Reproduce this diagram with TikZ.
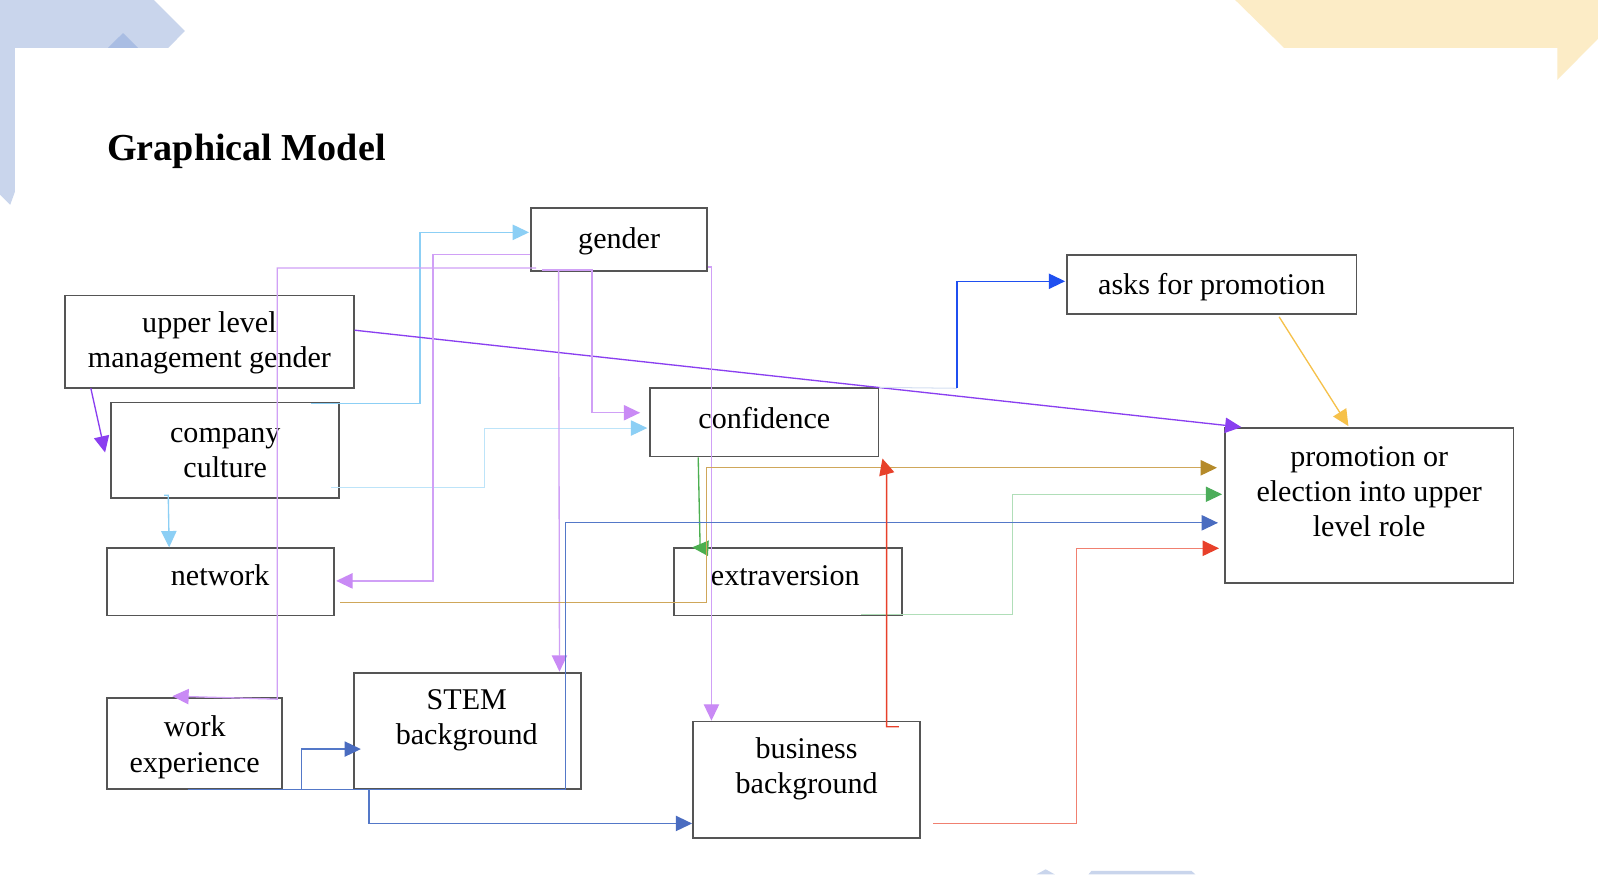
\documentclass[tikz,border=0pt]{standalone}
\usepackage{fontspec}
\setmainfont{Liberation Serif}
\usetikzlibrary{arrows.meta,calc}
\definecolor{boxgray}{HTML}{555555}
\definecolor{decoblue}{HTML}{C9D5EC}
\definecolor{decoblued}{HTML}{A9BDE3}
\definecolor{decoyel}{HTML}{FCECC6}
\definecolor{skyc}{HTML}{8CCFF5}
\definecolor{skyl}{HTML}{BDE4F9}
\definecolor{purd}{HTML}{8A3FF0}
\definecolor{purl}{HTML}{D0A0F6}
\definecolor{purla}{HTML}{C98AF5}
\definecolor{blueb}{HTML}{1F4FF0}
\definecolor{faintc}{HTML}{D5E0F2}
\definecolor{yelc}{HTML}{F6C14A}
\definecolor{grec}{HTML}{4CAF50}
\definecolor{gre2}{HTML}{8ED09A}
\definecolor{gre2a}{HTML}{4CAD5A}
\definecolor{goldl}{HTML}{CFA75A}
\definecolor{golda}{HTML}{B58A2A}
\definecolor{steel}{HTML}{5478C8}
\definecolor{steela}{HTML}{4A6CC0}
\definecolor{redc}{HTML}{E8402A}
\definecolor{red2}{HTML}{F08070}
\newcommand\boxfont{\fontsize{29.5}{34.5}\selectfont}
\begin{document}
\begin{tikzpicture}[x=1pt,y=-1pt,
  box/.style={draw=boxgray,line width=1.8pt,inner sep=0pt},
  txt/.style={font=\boxfont,align=center,inner sep=0pt},
  conn/.style={line width=1.3pt,draw=#1,-{Triangle[length=16pt,width=15pt,color=#1]}},
  conntwo/.style 2 args={line width=1.3pt,draw=#1,-{Triangle[length=16pt,width=15pt,color=#2]}},
  plain/.style={line width=1.3pt,draw=#1}]
\useasboundingbox (0,0) rectangle (1568,858);
\fill[white] (0,0) rectangle (1568,858);
% background decorations
\fill[decoblue] (0,0) -- (151,0) -- (181.5,30.4) -- (165,47) -- (14.7,47) -- (14.7,188) -- (10,201) -- (0,191) -- cycle;
\fill[decoblued] (106,47) -- (120.7,32.4) -- (135.4,47) -- cycle;
\fill[decoyel] (1212,0) -- (1568,0) -- (1568,38) -- (1528,78.5) -- (1528,47) -- (1260,47) -- cycle;
\fill[decoblue] (1017,858) -- (1026,853) -- (1035,858) -- cycle;
\fill[decoblue] (1068,858) -- (1071,854.5) -- (1169,854.5) -- (1173,858) -- cycle;
% title
\node[anchor=base west,inner sep=0pt,font=\fontsize{37.4}{40}\selectfont\bfseries] (title) at (105,157.5) {Graphical Model};
% boxes
\node[box,minimum width=173pt,minimum height=62pt] (gender) at (607.5,235) {};
\node[box,minimum width=284pt,minimum height=58pt] (asks) at (1189,279) {};
\node[box,minimum width=283pt,minimum height=91pt] (ulmg) at (205.5,335.5) {};
\node[box,minimum width=224pt,minimum height=94pt] (company) at (221,442) {};
\node[box,minimum width=224pt,minimum height=67pt] (confidence) at (750,414.5) {};
\node[box,minimum width=283pt,minimum height=152pt] (promo) at (1343.5,496) {};
\node[box,minimum width=223pt,minimum height=66pt] (network) at (216.5,571) {};
\node[box,minimum width=224pt,minimum height=66pt] (extra) at (773,571) {};
\node[box,minimum width=172pt,minimum height=89pt] (work) at (191,729.5) {};
\node[box,minimum width=223pt,minimum height=114pt] (stem) at (458.5,717) {};
\node[box,minimum width=223pt,minimum height=114pt] (business) at (791.5,765) {};
% texts
\node[txt] (gender-t) at (607.5,236.5) {\strut gender};
\node[txt] (asks-t) at (1189,282.5) {\strut asks for promotion};
\node[txt] (ulmg-t) at (205.5,336.5) {\strut upper level\\\strut management gender};
\node[txt] (company-t) at (221,444.5) {\strut company\\\strut culture};
\node[txt] (confidence-t) at (750,413.5) {\strut confidence};
\node[txt] (promo-t) at (1343.5,485) {\strut promotion or\\\strut election into upper\\\strut level role};
\node[txt] (network-t) at (216,567.5) {\strut network};
\node[txt] (extra-t) at (770.5,567.5) {\strut extraversion};
\node[txt] (work-t) at (191,733.5) {\strut work\\\strut experience};
\node[txt] (stem-t) at (458,706.5) {\strut STEM\\\strut background};
\node[txt] (business-t) at (791.5,754.5) {\strut business\\\strut background};
% connectors
% light blue
\draw[conn=skyc] ($(company.north east)+(-29,2)$) -| (412,228) -- ($(gender.west |- 0,228)+(-1,0)$);
\draw[line width=1pt,draw=skyl,-{Triangle[length=16pt,width=15pt,color=skyc]}] ($(company.east |- 0,478)+(-9,0)$) -| (475,420) -- ($(confidence.west |- 0,420)+(-2,0)$);
\draw[conn=skyc] ($(company.south west)+(53,-4)$) -- ++(4,0) -- (network.north -| 166,0);
% dark purple
\draw[conn=purd] ($(ulmg.south west)+(26,-1)$) -- ($(company.west)+(-5,2)$);
\draw[conn=purd] (ulmg.east |- 0,324) -- ($(promo.north west)+(17,0)$);
% blue to asks
\coordinate (fbend) at (939,381);
\draw[line width=1pt,draw=faintc] (confidence.north east) -- (fbend);
\draw[conn=blueb] (fbend) |- ($(asks.west |- 0,276)+(-1,0)$);
% yellow
\draw[conn=yelc] ($(asks.south west)+(209,2)$) -- ($(promo.north west)+(122,-1)$);
% light purple from gender
\draw[conntwo={purl}{purla}] ($(gender.south west)+(6,-4)$) -| (272,686) -- ($(work.north west)+(65,-1)$);
\draw[conntwo={purl}{purla}] (gender.west |- 0,250) -| (425,570) -- ($(network.east |- 0,570)+(1,0)$);
\draw[conntwo={purl}{purla}] ($(gender.south west)+(12,-2)$) -| (581,405) -- ($(confidence.west |- 0,405)+(-9,0)$);
\draw[conntwo={purl}{purla}] (gender.east |- 0,262) -| ($(business.north west)+(19,0)$);
\draw[conntwo={purl}{purla}] ($(gender.south west)+(28,-1)$) -- (stem.north -| 549,0);
% green confidence -> extraversion
\draw[conn=grec] ($(confidence.south west)+(48,0)$) -- (687,538) -- (696,538) -- ($(extra.north west)+(19,0)$);
% gold network -> promotion
\draw[conntwo={goldl}{golda}] ($(network.east |- 0,591)+(5,0)$) -| (693,459) -- ($(promo.west |- 0,459)+(-7,0)$);
% green extraversion -> promotion
\draw[line width=1pt,draw=gre2!70,-{Triangle[length=16pt,width=15pt,color=gre2a]}] ($(extra.south east)+(-41,-2)$) -| (993,485) -- ($(promo.west |- 0,485)+(-2,0)$);
% steel blue from work experience
\draw[conntwo={steel}{steela}] ($(work.south west)+(80,0)$) -| (555,513) -- ($(promo.west |- 0,513)+(-6,0)$);
\draw[conntwo={steel}{steela}] ($(work.south west)+(80,0)$) -| (296,735) -- ($(stem.west |- 0,735)+(8,0)$);
\draw[conntwo={steel}{steela}] ($(work.south west)+(80,0)$) -| (362,808) -- (business.west |- 0,808);
% red business -> confidence
\draw[conn=redc] ($(business.north east)+(-22,6)$) -| (870,465) -- ($(confidence.south east)+(3,1)$);
% red business -> promotion
\draw[conntwo={red2}{redc}] ($(business.east |- 0,808)+(12,0)$) -| (1056,538) -- ($(promo.west |- 0,538)+(-5,0)$);
\end{tikzpicture}
\end{document}
